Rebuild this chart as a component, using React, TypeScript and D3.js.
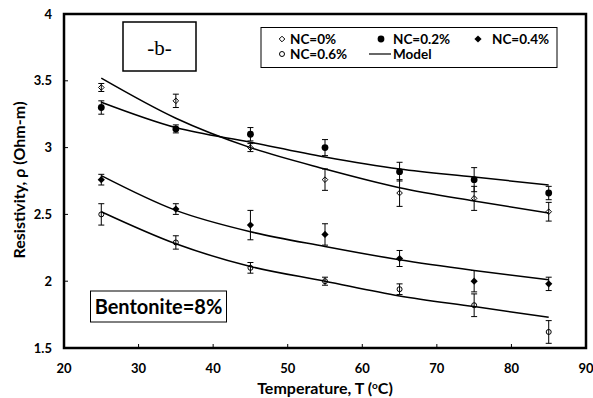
import { useEffect, useRef } from 'react';
import * as d3 from 'd3';

const temps = [25, 35, 45, 55, 65, 75, 85];

const series = ['NC=0%', 'NC=0.2%', 'NC=0.4%', 'NC=0.6%'];
const nc0 = [3.45, 3.35, 3.0, 2.76, 2.66, 2.62, 2.52];
const nc02 = [3.3, 3.14, 3.1, 3.0, 2.82, 2.76, 2.66];
const nc04 = [2.76, 2.54, 2.42, 2.35, 2.17, 2.0, 1.98];
const nc06 = [2.5, 2.29, 2.1, 2.0, 1.94, 1.82, 1.62];

const err0 = [0.03, 0.05, 0.03, 0.08, 0.1, 0.09, 0.07];
const err02 = [0.05, 0.03, 0.05, 0.06, 0.07, 0.09, 0.05];
const err04 = [0.04, 0.04, 0.11, 0.08, 0.06, 0.08, 0.05];
const err06 = [0.08, 0.05, 0.04, 0.03, 0.04, 0.085, 0.085];

// model curves
const model0 = [3.52, 3.22, 3.0, 2.84, 2.7, 2.6, 2.51];
const model02 = [3.34, 3.15, 3.04, 2.93, 2.84, 2.78, 2.72];
const model04 = [2.79, 2.53, 2.37, 2.26, 2.16, 2.08, 2.01];
const model06 = [2.52, 2.28, 2.11, 2.0, 1.89, 1.81, 1.73];

const xTicks = [20, 30, 40, 50, 60, 70, 80, 90];
const yTicks = [1.5, 2, 2.5, 3, 3.5, 4];

const font = "Lato, sans-serif";

export default function App() {
    const svgRef = useRef<SVGSVGElement>(null);

    useEffect(() => {
        if (!svgRef.current) return;
        const svg = d3.select(svgRef.current);
        svg.selectAll('*').remove();

        const left = 64, right = 586, top = 14, bottom = 348;
        const x = d3.scaleLinear().domain([20, 90]).range([left, right]);
        const y = d3.scaleLinear().domain([1.5, 4]).range([bottom, top]);

        // ticks
        const g = svg.append('g');
        g.selectAll('line.xt').data(xTicks.slice(1, -1)).join('line')
            .attr('x1', d => x(d)).attr('x2', d => x(d))
            .attr('y1', bottom).attr('y2', bottom - 4)
            .attr('stroke', '#000').attr('stroke-width', 1);
        g.selectAll('line.yt').data(yTicks.slice(1, -1)).join('line')
            .attr('x1', left).attr('x2', left + 4)
            .attr('y1', d => y(d)).attr('y2', d => y(d))
            .attr('stroke', '#000').attr('stroke-width', 1);

        g.selectAll('text.xl').data(xTicks).join('text')
            .attr('x', d => x(d)).attr('y', 373)
            .attr('text-anchor', 'middle')
            .style('font-family', font).style('font-weight', 'bold').style('font-size', '13px')
            .text(d => d);
        g.selectAll('text.yl').data(yTicks).join('text')
            .attr('x', 52).attr('y', d => y(d) + 4.5)
            .attr('text-anchor', 'end')
            .style('font-family', font).style('font-weight', 'bold').style('font-size', '13px')
            .text(d => d);

        // axis titles
        const xt = svg.append('text')
            .attr('x', 325).attr('y', 394)
            .attr('text-anchor', 'middle')
            .style('font-family', font).style('font-weight', 'bold').style('font-size', '16px');
        xt.append('tspan').text('Temperature, T (');
        xt.append('tspan').attr('dy', -5).style('font-size', '10px').text('o');
        xt.append('tspan').attr('dy', 5).text('C)');
        svg.append('text')
            .attr('transform', `translate(25,180) rotate(-90)`)
            .attr('text-anchor', 'middle')
            .style('font-family', font).style('font-weight', 'bold').style('font-size', '16px')
            .text('Resistivity, ρ (Ohm-m)');

        // model lines
        const line = d3.line<number>()
            .x((_, i) => x(temps[i]))
            .y(d => y(d))
            .curve(d3.curveMonotoneX);
        [model0, model02, model04, model06].forEach(m => {
            svg.append('path').attr('d', line(m)!)
                .attr('fill', 'none').attr('stroke', '#000').attr('stroke-width', 1.5);
        });

        // error bars
        const drawErr = (vals: number[], errs: number[]) => {
            const eg = svg.append('g').attr('stroke', '#000').attr('stroke-width', 1);
            vals.forEach((v, i) => {
                const cx = x(temps[i]);
                const y1 = y(v + errs[i]), y2 = y(v - errs[i]);
                eg.append('line').attr('x1', cx).attr('x2', cx).attr('y1', y1).attr('y2', y2);
                eg.append('line').attr('x1', cx - 3).attr('x2', cx + 3).attr('y1', y1).attr('y2', y1);
                eg.append('line').attr('x1', cx - 3).attr('x2', cx + 3).attr('y1', y2).attr('y2', y2);
            });
        };
        drawErr(nc0, err0);
        drawErr(nc02, err02);
        drawErr(nc04, err04);
        drawErr(nc06, err06);

        const diamond = (cx: number, cy: number, r: number) =>
            `M${cx},${cy - r}L${cx + r},${cy}L${cx},${cy + r}L${cx - r},${cy}Z`;

        const marker = (sel: any, kind: number, cx: number, cy: number) => {
            if (kind === 0) sel.append('path').attr('d', diamond(cx, cy, 2.8)).attr('fill', 'none').attr('stroke', '#000').attr('stroke-width', 1);
            if (kind === 1) sel.append('circle').attr('cx', cx).attr('cy', cy).attr('r', 3.4).attr('fill', '#000');
            if (kind === 2) sel.append('path').attr('d', diamond(cx, cy, 3.6)).attr('fill', '#000');
            if (kind === 3) sel.append('circle').attr('cx', cx).attr('cy', cy).attr('r', 2.5).attr('fill', 'none').attr('stroke', '#000').attr('stroke-width', 1);
        };

        const mg = svg.append('g');
        [nc0, nc02, nc04, nc06].forEach((vals, k) => {
            vals.forEach((v, i) => marker(mg, k, x(temps[i]), y(v)));
        });

        // frame
        svg.append('rect')
            .attr('x', left).attr('y', top)
            .attr('width', right - left).attr('height', bottom - top)
            .attr('fill', 'none').attr('stroke', '#000').attr('stroke-width', 2.5);

        // legend
        const lg = svg.append('g');
        lg.append('rect').attr('x', 261).attr('y', 27.5).attr('width', 296).attr('height', 40)
            .attr('fill', '#fff').attr('stroke', '#000').attr('stroke-width', 1);
        const legendPos = [[282, 39, 290], [381, 39, 393], [478, 39, 492], [282, 54, 290]];
        series.forEach((s, k) => {
            const [mx, my, tx] = legendPos[k];
            marker(lg, k, mx, my);
            lg.append('text').attr('x', tx).attr('y', my + 4.5)
                .style('font-family', font).style('font-weight', 'bold').style('font-size', '13.5px')
                .text(s);
        });
        lg.append('line').attr('x1', 369).attr('x2', 391).attr('y1', 54).attr('y2', 54)
            .attr('stroke', '#000').attr('stroke-width', 1.2);
        lg.append('text').attr('x', 393).attr('y', 58.5)
            .style('font-family', font).style('font-weight', 'bold').style('font-size', '13.5px')
            .text('Model');

        // -b- label
        svg.append('rect').attr('x', 123).attr('y', 22).attr('width', 73).attr('height', 49)
            .attr('fill', '#fff').attr('stroke', '#000').attr('stroke-width', 1.5);
        svg.append('text').attr('x', 159.5).attr('y', 55)
            .attr('text-anchor', 'middle')
            .style('font-family', 'Liberation Serif, serif').style('font-size', '21px')
            .text('-b-');

        // Bentonite label
        svg.append('rect').attr('x', 90.5).attr('y', 291).attr('width', 136).attr('height', 31)
            .attr('fill', '#fff').attr('stroke', '#000').attr('stroke-width', 1);
        svg.append('text').attr('x', 158.5).attr('y', 313.5)
            .attr('text-anchor', 'middle')
            .style('font-family', font).style('font-weight', 'bold').style('font-size', '20px')
            .text('Bentonite=8%');
    }, []);

    return <svg ref={svgRef} width={593} height={398} style={{ position: 'absolute', left: 0, top: 0 }} />;
}
